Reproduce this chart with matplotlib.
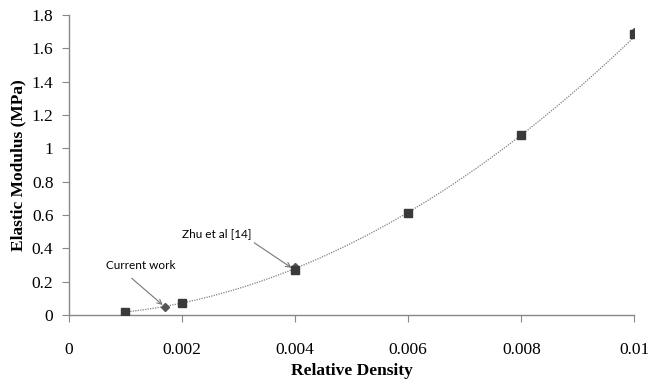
import numpy as np
import matplotlib
matplotlib.use('Agg')
import matplotlib.pyplot as plt

# Zhu et al [14] (squares)
zhu_x = [0.001, 0.002, 0.004, 0.006, 0.008, 0.01]
zhu_y = [0.02, 0.07, 0.27, 0.61, 1.08, 1.685]
# current work (diamonds)
cur_x = [0.0017, 0.004, 0.01]
cur_y = [0.05, 0.29, 1.70]

xticks = [0, 0.002, 0.004, 0.006, 0.008, 0.01]
xticklabels = ['0', '0.002', '0.004', '0.006', '0.008', '0.01']
yticks = [0, 0.2, 0.4, 0.6, 0.8, 1, 1.2, 1.4, 1.6, 1.8]
yticklabels = ['0', '0.2', '0.4', '0.6', '0.8', '1', '1.2', '1.4', '1.6', '1.8']

fig = plt.figure(figsize=(6.48, 3.82), dpi=100)
ax = fig.add_axes([0.106, 0.175, 0.873, 0.786])

# power-law trendline (like excel) fitted to all points
allx = np.array(zhu_x + cur_x)
ally = np.array(zhu_y + cur_y)
b, a = np.polyfit(np.log(allx), np.log(ally), 1)
xs = np.linspace(min(allx), max(allx), 200)
ax.plot(xs, np.exp(a) * xs**b, color='#808080', linestyle=(0, (1, 1)), linewidth=0.9, zorder=1)

ax.plot(cur_x, cur_y, linestyle='none', marker='D', markersize=4.5, color='#555555', zorder=2)
ax.plot(zhu_x, zhu_y, linestyle='none', marker='s', markersize=6, color='#3a3a3a', zorder=3)

ax.set_xlim(0, 0.01)
ax.set_ylim(0, 1.8)
ax.set_xticks(xticks)
ax.set_xticklabels(xticklabels)
ax.set_yticks(yticks)
ax.set_yticklabels(yticklabels)

for s in ['top', 'right']:
    ax.spines[s].set_visible(False)
for s in ['left', 'bottom']:
    ax.spines[s].set_color('#888888')
    ax.spines[s].set_linewidth(1.0)

ax.tick_params(axis='x', direction='out', length=5, color='#888888', pad=14,
               labelsize=12.5, labelfontfamily='Liberation Serif')
ax.tick_params(axis='y', direction='out', length=5, color='#888888', pad=6,
               labelsize=12.5, labelfontfamily='Liberation Serif')

ax.set_xlabel('Relative Density', fontfamily='Liberation Serif', fontweight='bold', fontsize=12.5, labelpad=4)
ax.set_ylabel('Elastic Modulus (MPa)', fontfamily='Liberation Serif', fontweight='bold', fontsize=12.5, labelpad=4)

ax.annotate('Current work', xy=(cur_x[0], cur_y[0]), xytext=(0.00127, 0.265),
            fontsize=8.5, fontfamily='Lato', ha='center', va='bottom',
            arrowprops=dict(arrowstyle='->', color='#777777', linewidth=0.8,
                            shrinkA=5, shrinkB=2, relpos=(0.25, 0)))
ax.annotate('Zhu et al [14]', xy=(zhu_x[2], zhu_y[2]), xytext=(0.00261, 0.455),
            fontsize=8.5, fontfamily='Lato', ha='center', va='bottom',
            arrowprops=dict(arrowstyle='->', color='#777777', linewidth=0.8,
                            shrinkA=1, shrinkB=3, relpos=(0.97, 0)))

fig.savefig('out.png', dpi=100)
